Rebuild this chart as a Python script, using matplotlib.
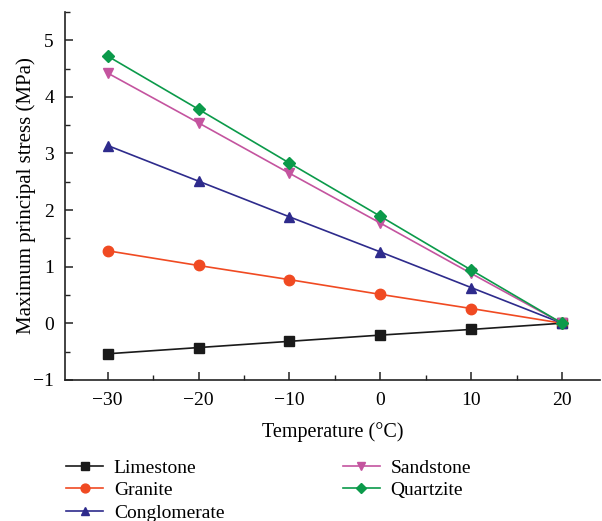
import matplotlib
import matplotlib.pyplot as plt
from matplotlib.ticker import MultipleLocator, FuncFormatter

matplotlib.use("Agg")

plt.rcParams["font.family"] = ["Liberation Serif", "DejaVu Serif"]

temperature = [-30, -20, -10, 0, 10, 20]
limestone = [-0.54, -0.43, -0.32, -0.21, -0.11, 0.0]
granite = [1.28, 1.02, 0.77, 0.51, 0.26, 0.0]
conglomerate = [3.14, 2.51, 1.88, 1.26, 0.63, 0.0]
sandstone = [4.42, 3.54, 2.65, 1.77, 0.88, 0.0]
quartzite = [4.72, 3.78, 2.83, 1.89, 0.94, 0.0]

series = [
    ("Limestone", limestone, "#1a1a1a", "s"),
    ("Granite", granite, "#f04a22", "o"),
    ("Conglomerate", conglomerate, "#2e2b8c", "^"),
    ("Sandstone", sandstone, "#c4549f", "v"),
    ("Quartzite", quartzite, "#0b9a4a", "D"),
]


def minus_fmt(v, pos):
    return f"{v:.0f}".replace("-", "\u2212")


fig = plt.figure(figsize=(6.02, 5.21), dpi=100)
ax = fig.add_axes([0.108, 0.271, 0.889, 0.706])

for name, vals, color, marker in series:
    ax.plot(temperature, vals, color=color, marker=marker,
            markersize=7.5 if marker != "D" else 6.5,
            linewidth=1.2, label=name)

ax.set_xlim(-34.7, 24.2)
ax.set_ylim(-1, 5.5)
ax.xaxis.set_major_locator(MultipleLocator(10))
ax.xaxis.set_minor_locator(MultipleLocator(5))
ax.yaxis.set_major_locator(MultipleLocator(1))
ax.yaxis.set_minor_locator(MultipleLocator(0.5))
ax.tick_params(which="both", direction="in", labelsize=14, color="#222222")
ax.tick_params(which="major", length=6, width=1.1)
ax.tick_params(axis="x", which="major", pad=9)
ax.tick_params(axis="y", which="major", pad=8)
ax.tick_params(which="minor", length=3.5, width=1.0)
ax.xaxis.set_major_formatter(FuncFormatter(minus_fmt))
ax.yaxis.set_major_formatter(FuncFormatter(minus_fmt))
for s in ("top", "right"):
    ax.spines[s].set_visible(False)
for s in ("left", "bottom"):
    ax.spines[s].set_linewidth(1.2)
    ax.spines[s].set_color("#222222")

ax.set_xlabel("Temperature (°C)", fontsize=14.5, labelpad=9)
ax.set_ylabel("Maximum principal stress (MPa)", fontsize=15)
ax.yaxis.set_label_coords(-0.055, 0.5)

leg = fig.legend(loc="upper left", bbox_to_anchor=(0.097, 0.134), ncol=2, frameon=False,
                 fontsize=14, handlelength=1.9, columnspacing=6.1, labelspacing=0.26,
                 handletextpad=0.55, borderaxespad=0, markerscale=0.85)

fig.savefig("out.png", dpi=100)
